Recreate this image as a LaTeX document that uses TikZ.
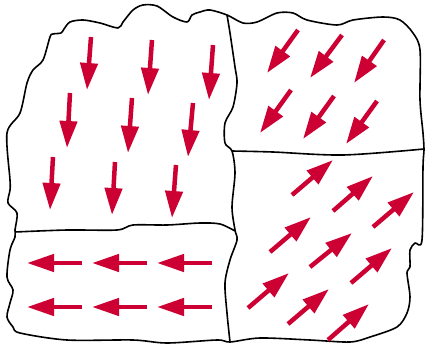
\documentclass[tikz,border=0pt]{standalone}
\usetikzlibrary{arrows.meta}
\definecolor{domainred}{RGB}{204,0,51}
\tikzset{
  outline/.style={draw=black, line width=1.6pt, line join=round},
  magarrow/.style={draw=domainred, line width=4.5pt, -{Triangle[length=27pt,width=17pt]}}
}
\begin{document}
\begin{tikzpicture}[x=1pt,y=-1pt]
\useasboundingbox (0,0) rectangle (429,349);
% outer boundary of the sample
\draw[outline] plot[smooth cycle, tension=0.5] coordinates {
 (50,37) (53,34) (61,33) (64,29) (70,22) (83,20) (100,23) (118,28) (123,22) (133,10) (143,5) (157,6) (173,17) (187,22) (192,15) (200,12) (210,10) (227,15) (243,23) (257,22) (277,13) (293,13) (307,20) (337,25) (353,20) (383,17) (400,20) (413,33) (420,50) (420,100) (423,133) (424,150) (423,167) (422,240) (415,243) (410,250) (410,267) (407,273) (410,297) (407,313) (397,327) (370,337) (350,342) (310,340) (260,338) (230,342) (217,340) (167,343) (133,340) (67,340) (20,333) (13,327) (7,317) (10,303) (13,290) (7,277) (10,250) (15,237) (15,230) (17,213) (8,203) (10,190) (10,180) (7,133) (20,113) (27,83) (33,70) (43,60)};
% domain walls
\draw[outline] plot[smooth, tension=0.5] coordinates {
 (227,15) (230,33) (235,67) (237,83) (233,107) (225,123) (225,143) (232,151) (235,173) (232,207) (235,230) (237,240) (230,260) (225,283) (227,313) (230,342)};
\draw[outline] plot[smooth, tension=0.5] coordinates {
 (232,151) (273,152) (343,155) (424,149)};
\draw[outline] plot[smooth, tension=0.5] coordinates {
 (15,232) (67,230) (117,230) (133,225) (167,225) (200,223) (220,224) (235,231)};
% top-left domain: downward
\draw[magarrow] (91,37) -- (87,90);
\draw[magarrow] (152,40) -- (148,95);
\draw[magarrow] (213,45) -- (209,100);
\draw[magarrow] (70,93) -- (67,148);
\draw[magarrow] (132,98) -- (128,153);
\draw[magarrow] (193,103) -- (188,157);
\draw[magarrow] (53,157) -- (50,210);
\draw[magarrow] (115,162) -- (112,215);
\draw[magarrow] (176,165) -- (172,218);
% top-right domain: down-left
\draw[magarrow] (298,30) -- (267,73);
\draw[magarrow] (342,35) -- (310,78);
\draw[magarrow] (384,40) -- (354,83);
\draw[magarrow] (291,90) -- (260,133);
\draw[magarrow] (334,96) -- (303,139);
\draw[magarrow] (377,101) -- (346,144);
% bottom-left domain: leftward
\draw[magarrow] (82,263) -- (27,263);
\draw[magarrow] (147,263) -- (92,263);
\draw[magarrow] (212,263) -- (157,263);
\draw[magarrow] (82,307) -- (27,307);
\draw[magarrow] (147,307) -- (92,307);
\draw[magarrow] (212,307) -- (157,307);
% bottom-right domain: up-right
\draw[magarrow] (292,195) -- (333,160);
\draw[magarrow] (333,211) -- (373,176);
\draw[magarrow] (373,227) -- (414,192);
\draw[magarrow] (270,252) -- (311,217);
\draw[magarrow] (310,267) -- (352,233);
\draw[magarrow] (351,283) -- (392,248);
\draw[magarrow] (248,308) -- (289,273);
\draw[magarrow] (288,324) -- (329,289);
\draw[magarrow] (328,340) -- (369,304);
\end{tikzpicture}
\end{document}
